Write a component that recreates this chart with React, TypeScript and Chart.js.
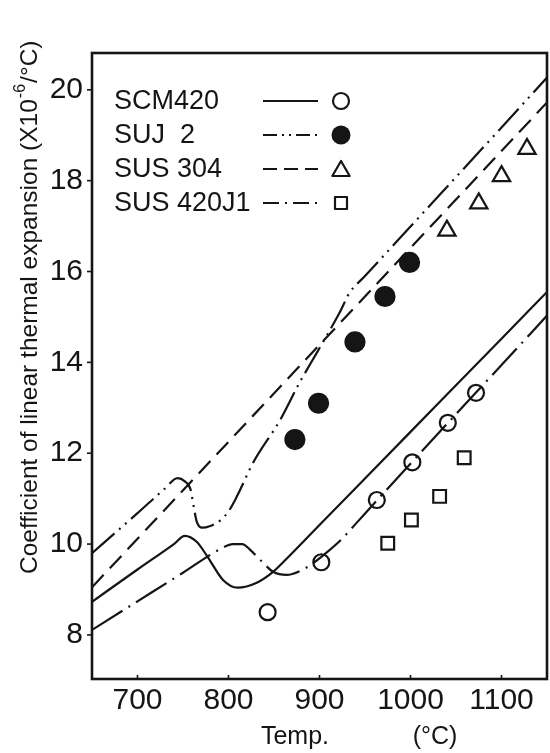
import React, { useEffect, useRef } from 'react';
import { Chart, registerables } from 'chart.js';

Chart.register(...registerables);

// ---- axis ticks ----
const xTicks = [700, 800, 900, 1000, 1100];
const yTicks = [8, 10, 12, 14, 16, 18, 20];

// ---- curves (temperature °C, coefficient ×10^-6/°C) ----
const scm420CurveT = [650, 700, 740, 752, 765, 777, 794, 810, 831, 849, 860, 900, 1000, 1100, 1150];
const scm420CurveV = [8.73, 9.44, 10.0, 10.18, 10.05, 9.72, 9.21, 9.04, 9.15, 9.39, 9.6, 10.42, 12.47, 14.52, 15.55];

const suj2CurveT = [650, 700, 730, 744, 752, 758, 762, 765, 771, 780, 791, 800, 809, 827, 857, 878, 897, 922, 933, 950, 1000, 1100, 1150];
const suj2CurveV = [9.8, 10.68, 11.22, 11.45, 11.38, 11.22, 10.8, 10.5, 10.36, 10.4, 10.52, 10.72, 11.04, 11.79, 12.74, 13.55, 14.21, 15.09, 15.53, 15.9, 16.99, 19.17, 20.27];

const sus304CurveT = [650, 1150];
const sus304CurveV = [9.05, 19.72];

const sus420j1CurveT = [650, 700, 750, 790, 805, 815, 825, 835, 849, 864, 880, 893, 910, 925, 940, 963, 1000, 1050, 1100, 1150];
const sus420j1CurveV = [8.11, 8.74, 9.37, 9.88, 10.0, 10.0, 9.85, 9.65, 9.39, 9.32, 9.42, 9.58, 9.85, 10.12, 10.45, 10.96, 11.77, 12.86, 13.94, 15.03];

// ---- measured points ----
const scm420PtsT = [843, 902, 963, 1002, 1041, 1072];
const scm420PtsV = [8.5, 9.6, 10.97, 11.8, 12.67, 13.33];

const suj2PtsT = [873, 899, 939, 972, 999];
const suj2PtsV = [12.3, 13.1, 14.45, 15.45, 16.2];

const sus304PtsT = [1040, 1075, 1100, 1128];
const sus304PtsV = [16.9, 17.5, 18.1, 18.7];

const sus420j1PtsT = [975, 1001, 1032, 1059];
const sus420j1PtsV = [10.02, 10.53, 11.05, 11.9];

// ---- legend ----
const legendLabels = ['SCM420', 'SUJ  2', 'SUS 304', 'SUS 420J1'];
const legendDashes = [[], [14, 5, 2, 5, 2, 5], [14, 7], [16, 6, 2, 6]];
const legendMarkers = ['circle', 'filled', 'triangle', 'square'];

const FONT = '"Liberation Sans", Arial, Helvetica, sans-serif';
const INK = '#151515';

const zip = (t: number[], v: number[]) => t.map((x, i) => ({ x, y: v[i] }));

function lineDS(t: number[], v: number[], dash: number[]) {
  return {
    type: 'line' as const,
    data: zip(t, v),
    borderColor: INK,
    borderWidth: 2.2,
    borderDash: dash,
    pointRadius: 0,
    fill: false,
    cubicInterpolationMode: 'monotone' as const,
  };
}

function pointDS(t: number[], v: number[], style: string, radius: number, filled: boolean) {
  return {
    type: 'scatter' as const,
    data: zip(t, v),
    pointStyle: style,
    pointRadius: radius,
    pointBorderWidth: 2.2,
    pointBorderColor: INK,
    pointBackgroundColor: filled ? INK : 'rgba(0,0,0,0)',
    showLine: false,
  };
}

const decorPlugin = {
  id: 'decor',
  afterDraw(chart: any) {
    const { ctx, chartArea } = chart;
    const { left, right, top, bottom } = chartArea;
    const xs = chart.scales.x;
    const ys = chart.scales.y;
    ctx.save();
    ctx.strokeStyle = INK;
    ctx.fillStyle = INK;
    // frame
    ctx.lineWidth = 2.6;
    ctx.setLineDash([]);
    ctx.strokeRect(left, top, right - left, bottom - top);
    // tick marks
    ctx.lineWidth = 1.6;
    yTicks.forEach((v) => {
      const y = ys.getPixelForValue(v);
      ctx.beginPath();
      ctx.moveTo(left - 5, y);
      ctx.lineTo(left, y);
      ctx.stroke();
    });
    ctx.font = `30px ${FONT}`;
    ctx.textAlign = 'center';
    ctx.textBaseline = 'middle';
    xTicks.forEach((v) => {
      const x = xs.getPixelForValue(v);
      ctx.beginPath();
      ctx.moveTo(x, bottom);
      ctx.lineTo(x, bottom - 4);
      ctx.stroke();
      ctx.fillText(String(v), x, bottom + 22);
    });
    // x title
    ctx.font = `25px ${FONT}`;
    ctx.fillText('Temp.', 295, 737);
    ctx.fillText('(°C)', 435, 737);
    // y title
    ctx.save();
    ctx.translate(30, 574);
    ctx.rotate(-Math.PI / 2);
    ctx.textAlign = 'left';
    ctx.textBaseline = 'middle';
    ctx.font = `24.5px ${FONT}`;
    const main = 'Coefficient of linear thermal expansion (X10';
    ctx.fillText(main, 0, 0);
    let off = ctx.measureText(main).width;
    ctx.font = `16px ${FONT}`;
    ctx.fillText('-6', off + 1, -9);
    off += ctx.measureText('-6').width + 2;
    ctx.font = `24.5px ${FONT}`;
    ctx.fillText('/°C)', off, 0);
    ctx.restore();
    // legend
    const rowY = [101, 135, 169, 203];
    legendLabels.forEach((lab, i) => {
      const y = rowY[i];
      ctx.font = `27px ${FONT}`;
      ctx.textAlign = 'left';
      ctx.textBaseline = 'middle';
      ctx.fillText(lab, 114, y + 1);
      ctx.lineWidth = 2.2;
      ctx.setLineDash(legendDashes[i]);
      ctx.beginPath();
      ctx.moveTo(263, y);
      ctx.lineTo(318, y);
      ctx.stroke();
      ctx.setLineDash([]);
      const mx = 341;
      const m = legendMarkers[i];
      ctx.beginPath();
      if (m === 'circle') {
        ctx.arc(mx, y, 8, 0, Math.PI * 2);
        ctx.stroke();
      } else if (m === 'filled') {
        ctx.arc(mx, y, 9.5, 0, Math.PI * 2);
        ctx.fill();
      } else if (m === 'triangle') {
        const r = 10;
        const cy = y + 2;
        for (let k = 0; k < 3; k++) {
          const a = -Math.PI / 2 + (k * 2 * Math.PI) / 3;
          const px = mx + Math.cos(a) * r;
          const py = cy + Math.sin(a) * r;
          if (k === 0) ctx.moveTo(px, py);
          else ctx.lineTo(px, py);
        }
        ctx.closePath();
        ctx.lineJoin = 'round';
        ctx.stroke();
      } else {
        ctx.rect(mx - 6, y - 6, 12, 12);
        ctx.stroke();
      }
    });
    ctx.restore();
  },
};

export default function App() {
  const ref = useRef<HTMLCanvasElement>(null);
  useEffect(() => {
    const chart = new Chart(ref.current as HTMLCanvasElement, {
      type: 'line',
      data: {
        datasets: [
          pointDS(scm420PtsT, scm420PtsV, 'circle', 8, false),
          pointDS(suj2PtsT, suj2PtsV, 'circle', 9.5, true),
          pointDS(sus304PtsT, sus304PtsV, 'triangle', 10, false),
          pointDS(sus420j1PtsT, sus420j1PtsV, 'rect', 9, false),
          lineDS(scm420CurveT, scm420CurveV, []),
          lineDS(suj2CurveT, suj2CurveV, [30, 6, 2, 6, 2, 6]),
          lineDS(sus304CurveT, sus304CurveV, [17, 9]),
          lineDS(sus420j1CurveT, sus420j1CurveV, [36, 7, 2, 7]),
        ] as any,
      },
      options: {
        responsive: false,
        animation: false,
        events: [],
        layout: { autoPadding: false, padding: { top: 53, right: 3, left: 0, bottom: 0 } },
        plugins: { legend: { display: false }, tooltip: { enabled: false } },
        scales: {
          x: {
            type: 'linear',
            min: 650,
            max: 1150,
            afterBuildTicks: (a: any) => {
              a.ticks = xTicks.map((v) => ({ value: v }));
            },
            afterFit: (s: any) => {
              s.height = 74;
            },
            grid: { display: false, drawTicks: false },
            border: { display: false },
            ticks: { display: false },
          },
          y: {
            type: 'linear',
            min: 7.03,
            max: 20.81,
            afterBuildTicks: (a: any) => {
              a.ticks = yTicks.map((v) => ({ value: v }));
            },
            afterFit: (s: any) => {
              s.width = 92;
            },
            grid: { display: false, drawTicks: false },
            border: { display: false },
            ticks: { font: { family: FONT, size: 30 }, color: INK, padding: 9, autoSkip: false, callback: (v: any) => String(v) },
          },
        },
      } as any,
      plugins: [decorPlugin],
    });
    return () => chart.destroy();
  }, []);
  return (
    <div style={{ position: 'absolute', left: 0, top: 0, width: 550, height: 753, background: '#fff' }}>
      <canvas ref={ref} width={550} height={753} style={{ display: 'block' }} />
    </div>
  );
}
